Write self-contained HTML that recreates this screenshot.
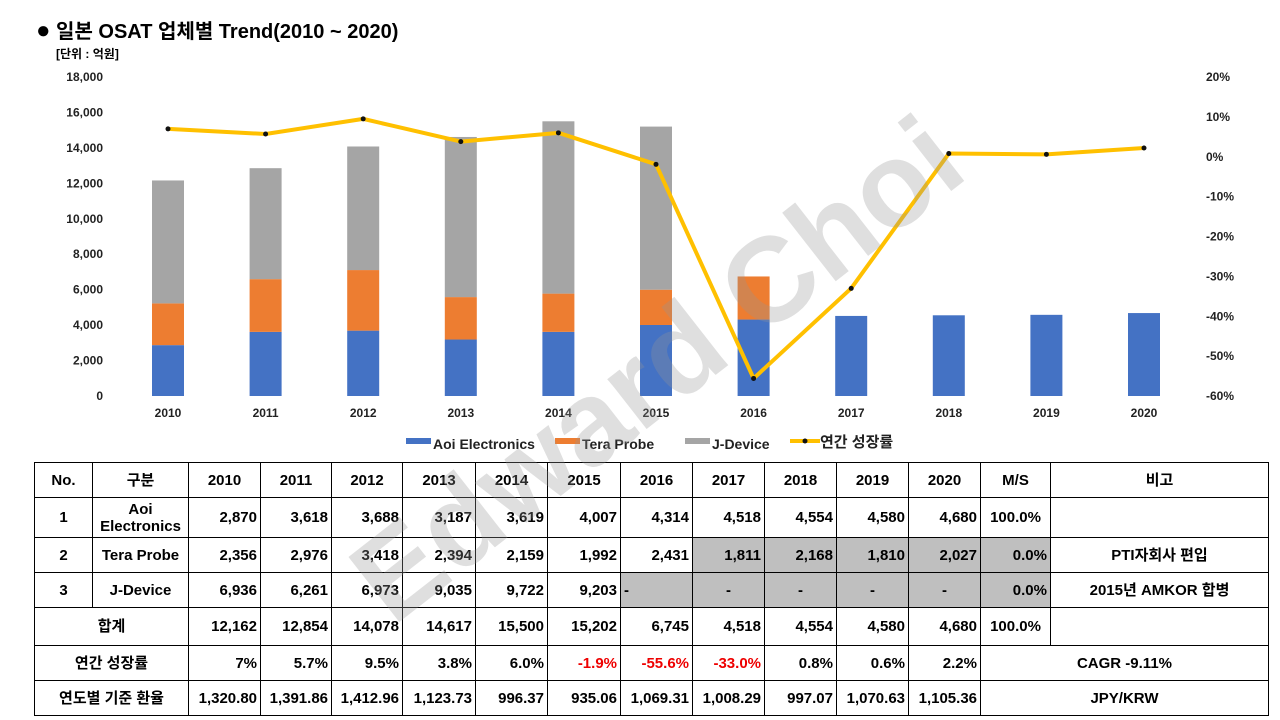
<!DOCTYPE html>
<html><head><meta charset="utf-8">
<style>
body{margin:0;width:1280px;height:720px;background:#fff;position:relative;overflow:hidden;font-family:"Liberation Sans","Noto Sans CJK KR",sans-serif;}
#title{position:absolute;left:36px;top:15px;font-size:20px;font-weight:bold;color:#000;}
#title span{font-size:24px;line-height:20px;}
#unit{position:absolute;left:56px;top:45px;font-size:12px;font-weight:bold;}
svg{position:absolute;left:0;top:0;}
table{position:absolute;left:34px;top:462px;border-collapse:collapse;table-layout:fixed;font-size:15px;font-weight:bold;}
td{border:1px solid #000;padding:0 3px;text-align:center;white-space:nowrap;line-height:17px;}
td.n{text-align:right;}
td.g{background:#bfbfbf;}
.red{color:#e00;}
#wm{position:absolute;left:290px;top:300px;font-size:120px;font-weight:bold;color:rgba(150,150,150,0.3);transform:rotate(-38deg);transform-origin:center;white-space:nowrap;}
</style></head><body>
<div id="title"><span>●</span> 일본 OSAT 업체별 Trend(2010 ~ 2020)</div>
<div id="unit">[단위 : 억원]</div>
<svg id="chart" width="1280" height="460"></svg>
<table>
<colgroup><col style="width:58px"><col style="width:96px"><col style="width:72px"><col style="width:71px"><col style="width:71px"><col style="width:73px"><col style="width:72px"><col style="width:73px"><col style="width:72px"><col style="width:72px"><col style="width:72px"><col style="width:72px"><col style="width:72px"><col style="width:70px"><col style="width:218px"></colgroup>
<tr style="height:35px"><td>No.</td><td>구분</td><td>2010</td><td>2011</td><td>2012</td><td>2013</td><td>2014</td><td>2015</td><td>2016</td><td>2017</td><td>2018</td><td>2019</td><td>2020</td><td>M/S</td><td>비고</td></tr>
<tr style="height:40px"><td>1</td><td>Aoi<br>Electronics</td><td class="n">2,870</td><td class="n">3,618</td><td class="n">3,688</td><td class="n">3,187</td><td class="n">3,619</td><td class="n">4,007</td><td class="n">4,314</td><td class="n">4,518</td><td class="n">4,554</td><td class="n">4,580</td><td class="n">4,680</td><td>100.0%</td><td></td></tr>
<tr style="height:35px"><td>2</td><td>Tera Probe</td><td class="n">2,356</td><td class="n">2,976</td><td class="n">3,418</td><td class="n">2,394</td><td class="n">2,159</td><td class="n">1,992</td><td class="n">2,431</td><td class="n g">1,811</td><td class="n g">2,168</td><td class="n g">1,810</td><td class="n g">2,027</td><td class="n g">0.0%</td><td>PTI자회사 편입</td></tr>
<tr style="height:35px"><td>3</td><td>J-Device</td><td class="n">6,936</td><td class="n">6,261</td><td class="n">6,973</td><td class="n">9,035</td><td class="n">9,722</td><td class="n">9,203</td><td class="g" style="text-align:left">-</td><td class="g">-</td><td class="g">-</td><td class="g">-</td><td class="g">-</td><td class="n g">0.0%</td><td>2015년 AMKOR 합병</td></tr>
<tr style="height:38px"><td colspan="2">합계</td><td class="n">12,162</td><td class="n">12,854</td><td class="n">14,078</td><td class="n">14,617</td><td class="n">15,500</td><td class="n">15,202</td><td class="n">6,745</td><td class="n">4,518</td><td class="n">4,554</td><td class="n">4,580</td><td class="n">4,680</td><td>100.0%</td><td></td></tr>
<tr style="height:35px"><td colspan="2">연간 성장률</td><td class="n">7%</td><td class="n">5.7%</td><td class="n">9.5%</td><td class="n">3.8%</td><td class="n">6.0%</td><td class="n red">-1.9%</td><td class="n red">-55.6%</td><td class="n red">-33.0%</td><td class="n">0.8%</td><td class="n">0.6%</td><td class="n">2.2%</td><td colspan="2">CAGR -9.11%</td></tr>
<tr style="height:35px"><td colspan="2">연도별 기준 환율</td><td class="n">1,320.80</td><td class="n">1,391.86</td><td class="n">1,412.96</td><td class="n">1,123.73</td><td class="n">996.37</td><td class="n">935.06</td><td class="n">1,069.31</td><td class="n">1,008.29</td><td class="n">997.07</td><td class="n">1,070.63</td><td class="n">1,105.36</td><td colspan="2">JPY/KRW</td></tr>
</table>
<div id="wm">Edward Choi</div>
<script>
const years=["2010","2011","2012","2013","2014","2015","2016","2017","2018","2019","2020"];
const aoi=[2870,3618,3688,3187,3619,4007,4314,4518,4554,4580,4680];
const tera=[2356,2976,3418,2394,2159,1992,2431,0,0,0,0];
const jdev=[6936,6261,6973,9035,9722,9203,0,0,0,0,0];
const growth=[7,5.7,9.5,3.8,6.0,-1.9,-55.6,-33.0,0.8,0.6,2.2];
const leftTicks=[0,2000,4000,6000,8000,10000,12000,14000,16000,18000];
const rightTicks=[20,10,0,-10,-20,-30,-40,-50,-60];
const svg=document.getElementById('chart');
const NS='http://www.w3.org/2000/svg';
const y0=396,y1=77;
const yL=v=>y0-(v/18000)*(y0-y1);
const yR=v=>y1+(20-v)/80*(y0-y1);
const xC=i=>168+i*97.6;
function mk(t,a,txt){const e=document.createElementNS(NS,t);for(const k in a)e.setAttribute(k,a[k]);if(txt!==undefined)e.textContent=txt;svg.appendChild(e);return e;}
leftTicks.forEach(v=>{const t=mk('text',{x:103,y:yL(v)+4,'text-anchor':'end','font-size':12,'font-weight':'bold',fill:'#222'},v.toLocaleString('en-US'));

});
rightTicks.forEach(v=>{const t=mk('text',{x:1206,y:yR(v)+4,'font-size':12,'font-weight':'bold',fill:'#222'},v+'%');

});
years.forEach((yr,i)=>{const t=mk('text',{x:xC(i),y:417,'text-anchor':'middle','font-size':12,'font-weight':'bold',fill:'#222'},yr);

});
const series=[[aoi,'#4472c4','bar-aoi'],[tera,'#ed7d31','bar-tera'],[jdev,'#a5a5a5','bar-jdevice']];
years.forEach((yr,i)=>{let base=0;series.forEach(([arr,c,n])=>{const v=arr[i];if(!v)return;const r=mk('rect',{x:xC(i)-16,y:yL(base+v),width:32,height:yL(base)-yL(base+v),fill:c});

base+=v;});});
const pts=growth.map((g,i)=>xC(i)+','+yR(g)).join(' ');
const pl=mk('polyline',{points:pts,fill:'none',stroke:'#ffc000','stroke-width':4,'stroke-linejoin':'round'});


growth.forEach((g,i)=>{const c=mk('circle',{cx:xC(i),cy:yR(g),r:2.5,fill:'#111'});

});
const leg=[['Aoi Electronics','#4472c4',406],['Tera Probe','#ed7d31',555],['J-Device','#a5a5a5',685]];
leg.forEach(([l,c,x])=>{const r=mk('rect',{x:x,y:438,width:25,height:6,fill:c});


const t=mk('text',{x:x+27,y:449,'font-size':14,'font-weight':'bold',fill:'#222'},l);

});
const ll=mk('line',{x1:790,y1:441,x2:820,y2:441,stroke:'#ffc000','stroke-width':4});


mk('circle',{cx:805,cy:441,r:2.5,fill:'#111'});
const lt=mk('text',{x:820,y:447,'font-size':15,'font-weight':'bold',fill:'#222'},'연간 성장률');


</script>
</body></html>
